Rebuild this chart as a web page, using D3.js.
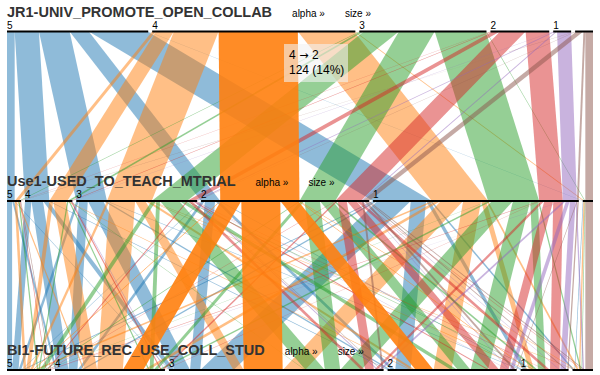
<!DOCTYPE html>
<html>
<head>
<meta charset="utf-8">
<script src="https://cdn.jsdelivr.net/npm/d3@7"></script>
<style>
  body { margin: 0; background: #fff; font-family: "Liberation Sans", Arial, Helvetica, sans-serif; font-size: 10px; }
  .ribbon path { stroke: none; fill-opacity: .5; }
  .ribbon path.active { fill-opacity: .9; }
  .dimension text.dim { font-size: 10px; fill: #000; }
  .dimension tspan.name { font-size: 14.5px; font-weight: bold; fill: #333; }
  .category line { stroke: #000; stroke-width: 2; }
  .category text { font-size: 10px; fill: #000; }
  .tooltip rect { fill: rgba(242, 242, 242, .6); }
  .tooltip text { font-size: 12px; fill: #000; }
  .tooltip tspan.arrow { font-family: "DejaVu Sans", sans-serif; font-size: 11px; }
</style>
</head>
<body>
<div id="vis"></div>
<script>
var dimNames = ["JR1-UNIV_PROMOTE_OPEN_COLLAB", "Use1-USED_TO_TEACH_MTRIAL", "BI1-FUTURE_REC_USE_COLL_STUD"];
var categories = ["5", "4", "3", "2", "1", ""];
var sortLabels = ["alpha »", "size »"];

// [JR1, Use1, BI1, count]
var flows = [
  ["5","5","5",8], ["5","5","4",3], ["5","5","3",1],
  ["5","4","5",10], ["5","4","4",18], ["5","4","3",8], ["5","4","2",2],
  ["5","3","5",4], ["5","3","4",14], ["5","3","3",24], ["5","3","2",4], ["5","3","1",2],
  ["5","2","5",1], ["5","2","4",5], ["5","2","3",16], ["5","2","2",6], ["5","2","1",2],
  ["5","1","5",3], ["5","1","4",4], ["5","1","3",52], ["5","1","2",24], ["5","1","1",6], ["5","1","",3],
  ["5","","",1],
  ["4","5","5",4], ["4","5","4",2],
  ["4","4","5",6], ["4","4","4",20], ["4","4","2",2],
  ["4","3","5",4], ["4","3","4",40], ["4","3","3",16], ["4","3","2",6], ["4","3","1",2], ["4","3","",2],
  ["4","2","5",1], ["4","2","4",32], ["4","2","3",61], ["4","2","2",28], ["4","2","1",1], ["4","2","",1],
  ["4","1","5",6], ["4","1","4",8], ["4","1","3",35], ["4","1","2",28], ["4","1","1",8], ["4","1","",3],
  ["4","","",2],
  ["3","5","5",2],
  ["3","4","5",2], ["3","4","4",2], ["3","4","3",1],
  ["3","3","5",7], ["3","3","4",6], ["3","3","3",30], ["3","3","2",10], ["3","3","1",2],
  ["3","2","5",2], ["3","2","4",6], ["3","2","3",24], ["3","2","2",20], ["3","2","1",4],
  ["3","1","5",1], ["3","1","4",5], ["3","1","3",33], ["3","1","2",27], ["3","1","1",12], ["3","1","",2],
  ["3","","",1],
  ["2","5","5",1],
  ["2","4","4",2],
  ["2","3","5",2], ["2","3","3",6], ["2","3","2",3], ["2","3","1",1],
  ["2","2","5",1], ["2","2","4",3], ["2","2","3",14], ["2","2","2",15], ["2","2","1",6], ["2","2","",1],
  ["2","1","5",2], ["2","1","4",1], ["2","1","3",5], ["2","1","2",14], ["2","1","1",15],
  ["1","4","4",1],
  ["1","3","3",2], ["1","3","2",1],
  ["1","2","2",1], ["1","2","1",1],
  ["1","1","5",1], ["1","1","3",4], ["1","1","2",6], ["1","1","1",9], ["1","1","",2],
  ["","5","5",1],
  ["","3","3",1],
  ["","2","3",3], ["","2","2",4], ["","2","1",2], ["","2","",2],
  ["","1","2",1], ["","1","1",2],
  ["","","",12]
];

// hovered ribbon
var activePath = ["4", "2"];

var svgWidth = 600, svgHeight = 375;
var margin = {left: 7};
var width = 586, spacing = 20;

var svg = d3.select("#vis").append("svg")
  .attr("width", svgWidth)
  .attr("height", svgHeight);

var total = d3.sum(flows, d => d[3]);

var w = d3.scaleLinear().domain([0, total]).range([0, width - spacing]);
var y = d3.scaleOrdinal().domain(d3.range(dimNames.length)).range([31.5, 201, 370]);
var color = d3.scaleOrdinal().domain(categories).range(d3.schemeCategory10);

// nested counts
var root = {children: new Map(), count: 0};
flows.forEach(f => {
  var node = root;
  root.count += f[3];
  for (var i = 0; i < dimNames.length; i++) {
    if (!node.children.has(f[i])) node.children.set(f[i], {children: new Map(), count: 0});
    node = node.children.get(f[i]);
    node.count += f[3];
  }
});

var dims = dimNames.map((name, i) => {
  var cats = categories.map(c => ({
    name: c,
    count: d3.sum(flows.filter(f => f[i] === c), f => f[3])
  })).filter(c => c.count);
  var x = 0, p = spacing / (cats.length - 1);
  cats.forEach(c => {
    c.x = x;
    c.dx = w(c.count);
    c.inX = 0;
    c.outX = 0;
    x += c.dx + p;
  });
  return {name: name, y: y(i), cats: cats};
});

var ribbons = [];
dims[0].cats.forEach(c => {
  var node = root.children.get(c.name);
  if (node) recurse(c, node, [c.name], 1, c.name);
});

function recurse(pCat, node, path, depth, major) {
  var dim = dims[depth];
  dim.cats.forEach(c => {
    var child = node.children.get(c.name);
    if (!child) return;
    var dx = w(child.count);
    var r = {
      path: path.concat(c.name), major: major, count: child.count,
      sx: pCat.x + pCat.outX, sy: dims[depth - 1].y,
      tx: c.x + c.inX, ty: dim.y, dx: dx
    };
    pCat.outX += dx;
    c.inX += dx;
    r.active = activePath.every((k, j) => r.path[j] === k);
    ribbons.push(r);
    if (depth + 1 < dims.length) recurse(c, child, r.path, depth + 1, major);
  });
}

// active ribbons drawn on top
ribbons = ribbons.filter(r => !r.active).concat(ribbons.filter(r => r.active));

var g = svg.append("g").attr("transform", `translate(${margin.left},0)`);

g.append("g").attr("class", "ribbon")
  .selectAll("path")
  .data(ribbons)
  .enter().append("path")
  .classed("active", d => d.active)
  .style("fill", d => color(d.major))
  .attr("d", d => "M" + [d.sx, d.sy] + "L" + [d.tx, d.ty] + "h" + d.dx +
    "L" + [d.sx + d.dx, d.sy] + "Z");

var dimension = g.selectAll("g.dimension")
  .data(dims)
  .enter().append("g")
  .attr("class", "dimension")
  .attr("transform", d => `translate(0,${d.y})`);

var label = dimension.append("text")
  .attr("class", "dim")
  .attr("y", -15);
label.append("tspan").attr("class", "name").text(d => d.name);
sortLabels.forEach(s => label.append("tspan").attr("class", "sort").attr("dx", 20).text(s));

var category = dimension.selectAll("g.category")
  .data(d => d.cats)
  .enter().append("g")
  .attr("class", "category")
  .attr("transform", d => `translate(${d.x})`);

category.append("line")
  .attr("x2", d => d.dx);

category.append("text")
  .attr("dy", "-.3em")
  .text(function(d) {
    this.textContent = d.name;
    return this.getComputedTextLength() < d.dx ? d.name : "";
  });

// tooltip for the hovered ribbon
var hovered = ribbons.find(r => r.path.length === activePath.length && r.active);
var tip = svg.append("g").attr("class", "tooltip").attr("transform", "translate(284,44)");
tip.append("rect").attr("width", 64).attr("height", 38);
var line1 = tip.append("text").attr("x", 5).attr("y", 15);
hovered.path.forEach((k, i) => {
  if (i) line1.append("tspan").attr("class", "arrow").text(" → ");
  line1.append("tspan").text(k);
});
tip.append("text").attr("x", 5).attr("y", 30)
  .text(d3.format(",")(hovered.count) + " (" + d3.format(".0%")(hovered.count / total) + ")");
</script>
</body>
</html>
